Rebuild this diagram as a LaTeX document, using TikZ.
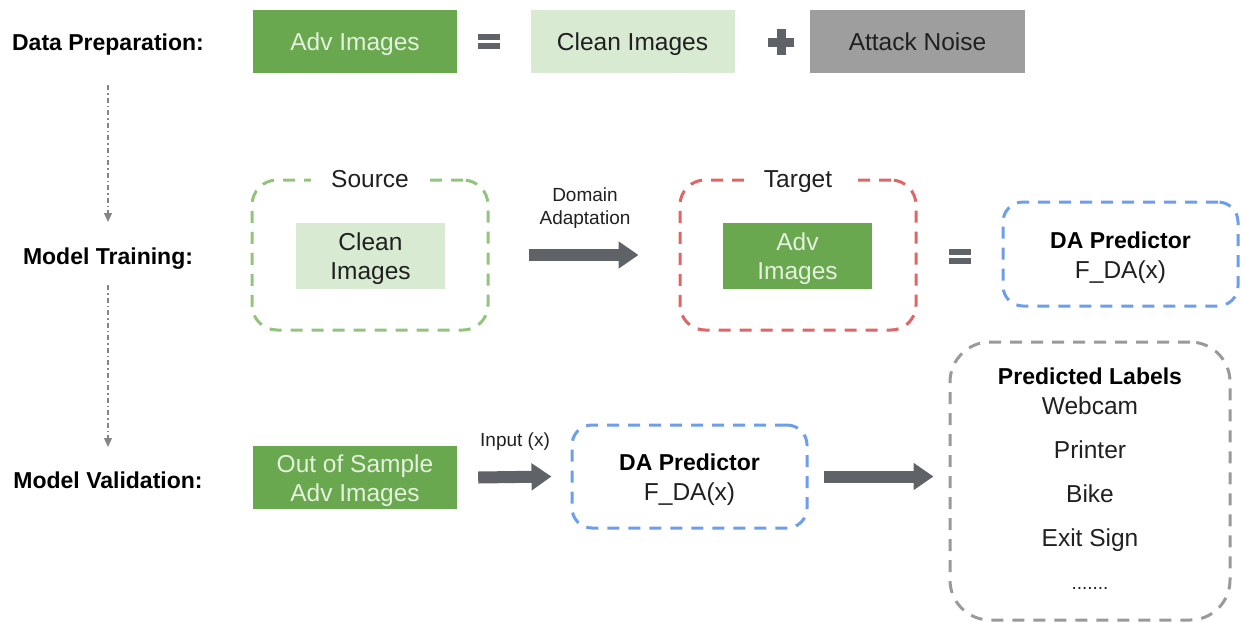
\documentclass[tikz,border=0pt]{standalone}
\usepackage{fontspec}
\setmainfont{Liberation Sans}
\usetikzlibrary{arrows.meta}
\definecolor{advgreen}{HTML}{6AA84F}
\definecolor{cleangreen}{HTML}{D9EAD3}
\definecolor{noisegray}{HTML}{9E9E9E}
\definecolor{srcgreen}{HTML}{93C47D}
\definecolor{tgtred}{HTML}{E06666}
\definecolor{dablue}{HTML}{6D9EEB}
\definecolor{predgray}{HTML}{9A9A9A}
\definecolor{arrowgray}{HTML}{5F6368}
\definecolor{axisgray}{HTML}{858585}
\definecolor{ink}{HTML}{202020}
\definecolor{advtext}{HTML}{E4F1DE}

\begin{document}
\begin{tikzpicture}[x=1pt,y=-1pt,
  txt/.style={font=\fontsize{24.5}{29}\selectfont, text=ink, align=center, inner sep=0pt},
  oneline/.style={text height=22pt, text depth=4.4pt},
  smalltxt/.style={font=\fontsize{19}{23}\selectfont, text=ink, align=center, inner sep=0pt},
  smallone/.style={text height=17.6pt, text depth=4pt},
  boldtxt/.style={font=\fontsize{23}{30}\selectfont\bfseries, text=black, align=center,
                  inner sep=0pt, text height=20.5pt, text depth=4pt},
  stage/.style={boldtxt},
  block/.style={txt, minimum width=204pt, minimum height=63pt},
  advbox/.style={block, fill=advgreen, text=advtext},
  cleanbox/.style={block, fill=cleangreen},
  noisebox/.style={block, fill=noisegray, minimum width=215pt},
  innerbox/.style={minimum width=149pt, minimum height=66pt, inner sep=0pt},
  dashframe/.style={draw, line width=3pt, dash pattern=on 12pt off 9pt,
                    rounded corners=#1, inner sep=0pt},
  dashframe/.default=25pt,
  framelabel/.style={txt, oneline, fill=white, inner xsep=20pt, inner ysep=2pt},
  bigarrow/.style={draw=arrowgray, line width=12pt, -{Triangle[length=20pt,width=26pt]}},
  axisline/.style={draw=axisgray, line width=1.2pt,
                   dash pattern=on 5pt off 3pt on 1.5pt off 3pt,
                   -{Triangle[length=9pt,width=8pt]}},
  opsign/.style={fill=arrowgray}
]
\useasboundingbox (0,0) rectangle (1241,622);

% stage labels and the flow between them
\node[stage] (prep)  at (108,42)  {Data Preparation:};
\node[stage] (train) at (108,256) {Model Training:};
\node[stage] (valid) at (108,480) {Model Validation:};
\draw[axisline, shorten <=43pt, shorten >=34pt] (prep.center) -- (train.center);
\draw[axisline, shorten <=29pt, shorten >=33pt] (train.center) -- (valid.center);

% data preparation: adv = clean + noise
\node[advbox, oneline]   (adv)   at (355,41.5)   {Adv Images};
\node[cleanbox, oneline] (clean) at (632.5,41.5) {Clean Images};
\node[noisebox, oneline] (noise) at (917.5,41.5) {Attack Noise};
\fill[opsign] (478,34) rectangle (500,40);
\fill[opsign] (478,43) rectangle (500,49);
\fill[opsign] (768,37.5) rectangle (794,46.5);
\fill[opsign] (776.5,29) rectangle (785.5,55);

% model training
\node[dashframe, draw=srcgreen, minimum width=236pt, minimum height=150pt] (src) at (370,255) {};
\node[framelabel] (srclbl) at (src.north) {Source};
\node[innerbox, fill=cleangreen] (srcimg) at (370.5,256) {};
\node[txt] at ([yshift=-3pt]srcimg.center) {Clean\\Images};

\node[dashframe, draw=tgtred, minimum width=236pt, minimum height=150pt] (tgt) at (798,255) {};
\node[framelabel] (tgtlbl) at (tgt.north) {Target};
\node[innerbox, fill=advgreen] (tgtimg) at (797.5,256) {};
\node[txt, text=advtext] at ([yshift=-3pt]tgtimg.center) {Adv\\Images};

\node[smalltxt] (dalbl) at (585,208.5) {Domain\\Adaptation};
\draw[bigarrow] ([xshift=39pt]src.east) -- ([xshift=-40pt]tgt.west);

\fill[opsign] (949,249) rectangle (971,255);
\fill[opsign] (949,258) rectangle (971,264);

\node[dashframe=20pt, draw=dablue, minimum width=235pt, minimum height=104pt] (da1) at (1120.5,254) {};
\node[boldtxt] at (1120.5,240) {DA Predictor};
\node[txt, oneline] at (1120.5,270) {F\_DA(x)};

% model validation
\node[advbox] (oos) at (355,477.5) {};
\node[txt, text=advtext] at ([yshift=-3pt]oos.center) {Out of Sample\\Adv Images};
\node[smalltxt, smallone] (inlbl) at (515,440) {Input (x)};
\node[dashframe=20pt, draw=dablue, minimum width=235pt, minimum height=103pt] (da2) at (689.5,476.5) {};
\node[boldtxt] at (689.5,462) {DA Predictor};
\node[txt, oneline] at (689.5,492) {F\_DA(x)};
\draw[bigarrow] ([xshift=21pt]oos.east) -- ([xshift=-19pt]da2.west);

\node[dashframe=40pt, draw=predgray, minimum width=280pt, minimum height=278pt] (pred) at (1090,481) {};
\draw[bigarrow] ([xshift=15pt]da2.east) -- ([xshift=-15pt]da2.east -| pred.west);
\node[boldtxt]       (plbl)    at (1090,376) {Predicted Labels};
\node[txt, oneline]  (webcam)  at (1090,406) {Webcam};
\node[txt, oneline]  (printer) at (1090,450) {Printer};
\node[txt, oneline]  (bike)    at (1090,494) {Bike};
\node[txt, oneline]  (exit)    at (1090,538) {Exit Sign};
\node[smalltxt, anchor=base] (more) at (1090,589) {.......};
\end{tikzpicture}
\end{document}
